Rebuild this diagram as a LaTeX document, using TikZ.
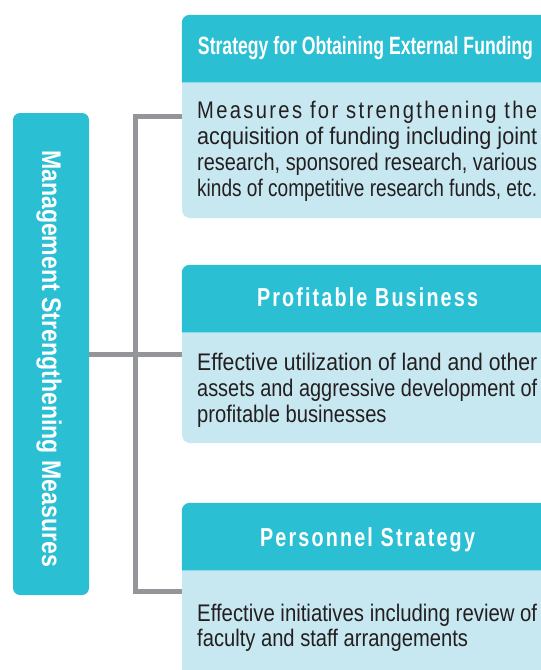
\documentclass[tikz,border=0pt]{standalone}
\usepackage{fontspec}
\setmainfont{Liberation Sans}[FakeStretch=0.84]
\newfontfamily\headfont{Liberation Sans}[FakeStretch=0.76]
\usepackage{graphicx}
\definecolor{teal}{HTML}{2BBFD4}
\definecolor{lightpanel}{HTML}{C8E8F1}
\definecolor{linegray}{HTML}{939598}
\definecolor{textcol}{HTML}{231F20}
\newcommand\LS{\hskip 0pt plus 1fil\relax}
\newcommand\fitline[1]{\hbox{\resizebox{340pt}{\height}{#1}}}
\tikzset{
  panel/.style={rectangle, fill=lightpanel, rounded corners=8pt, inner sep=0pt, minimum width=378pt},
  sidebox/.style={rectangle, fill=teal, rounded corners=7pt, inner sep=0pt, minimum width=76pt, minimum height=482pt},
  headtext/.style={anchor=base, inner sep=0pt, text=white, font=\headfont\bfseries\fontsize{26}{28}\selectfont},
  bodytext/.style={anchor=base west, inner sep=0pt, text=textcol, font=\fontsize{24}{26}\selectfont},
  connector/.style={draw=linegray, line width=5pt, line join=miter}
}
\begin{document}
\begin{tikzpicture}[x=1pt,y=-1pt]
\clip (0,0) rectangle (541,670);
% left box
\node[sidebox] (mgmt) at (51,354) {};
\node[headtext, rotate=-90, font=\headfont\bfseries\fontsize{27}{28}\selectfont] (mgmttext) at (42,358.5)
  {\resizebox{417pt}{\height}{Management Strengthening Measures}};
% panels
\node[panel, minimum height=203pt] (box1) at (371,116.5) {};
\node[panel, minimum height=178pt] (box2) at (371,354) {};
\node[panel, minimum height=177pt] (box3) at (371,591.5) {};
\foreach \b in {box1,box2,box3}{
  \fill[teal] ([yshift=-67.5pt]\b.north west) [rounded corners=8pt] -- (\b.north west) -- (\b.north east) [sharp corners] -- ([yshift=-67.5pt]\b.north east) -- cycle;
}
% headings
\node[headtext, font=\headfont\bfseries\fontsize{25}{26}\selectfont] (h1) at (365.5,54)
  {\resizebox{335pt}{\height}{Strategy for Obtaining External Funding}};
\node[headtext] (h2) at (367.5,306.7)
  {\hbox to 221pt{P\LS r\LS o\LS f\LS i\LS t\LS a\LS b\LS l\LS e\ \LS B\LS u\LS s\LS i\LS n\LS e\LS s\LS s}};
\node[headtext] (h3) at (367.5,546.7)
  {\hbox to 215pt{P\LS e\LS r\LS s\LS o\LS n\LS n\LS e\LS l\ \LS S\LS t\LS r\LS a\LS t\LS e\LS g\LS y}};
% body texts
\node[bodytext] (t1) at (197,118.3) {\vtop{\hsize=340pt\fontsize{24}{26}\selectfont
  \hbox to\hsize{M\LS e\LS a\LS s\LS u\LS r\LS e\LS s\ \LS f\LS o\LS r\ \LS s\LS t\LS r\LS e\LS n\LS g\LS t\LS h\LS e\LS n\LS i\LS n\LS g\ \LS t\LS h\LS e}
  \fitline{acquisition of funding including joint}
  \fitline{research, sponsored research, various}
  \fitline{kinds of competitive research funds, etc.}}};
\node[bodytext] (t2) at (197,370) {\vtop{\hsize=340pt\fontsize{24}{26}\selectfont
  \fitline{Effective utilization of land and other}
  \fitline{assets and aggressive development of}
  \hbox{profitable businesses}}};
\node[bodytext] (t3) at (197,621.7) {\vtop{\hsize=340pt\fontsize{24}{25}\selectfont
  \fitline{Effective initiatives including review of}
  \hbox{faculty and staff arrangements}}};
% connectors
\coordinate (top) at (135,116.5);
\coordinate (bot) at (135,591.5);
\draw[connector] (mgmt.east) -- (box2.west);
\draw[connector] (box1.west) -- (top) -- (bot) -- (box3.west);
\end{tikzpicture}
\end{document}
